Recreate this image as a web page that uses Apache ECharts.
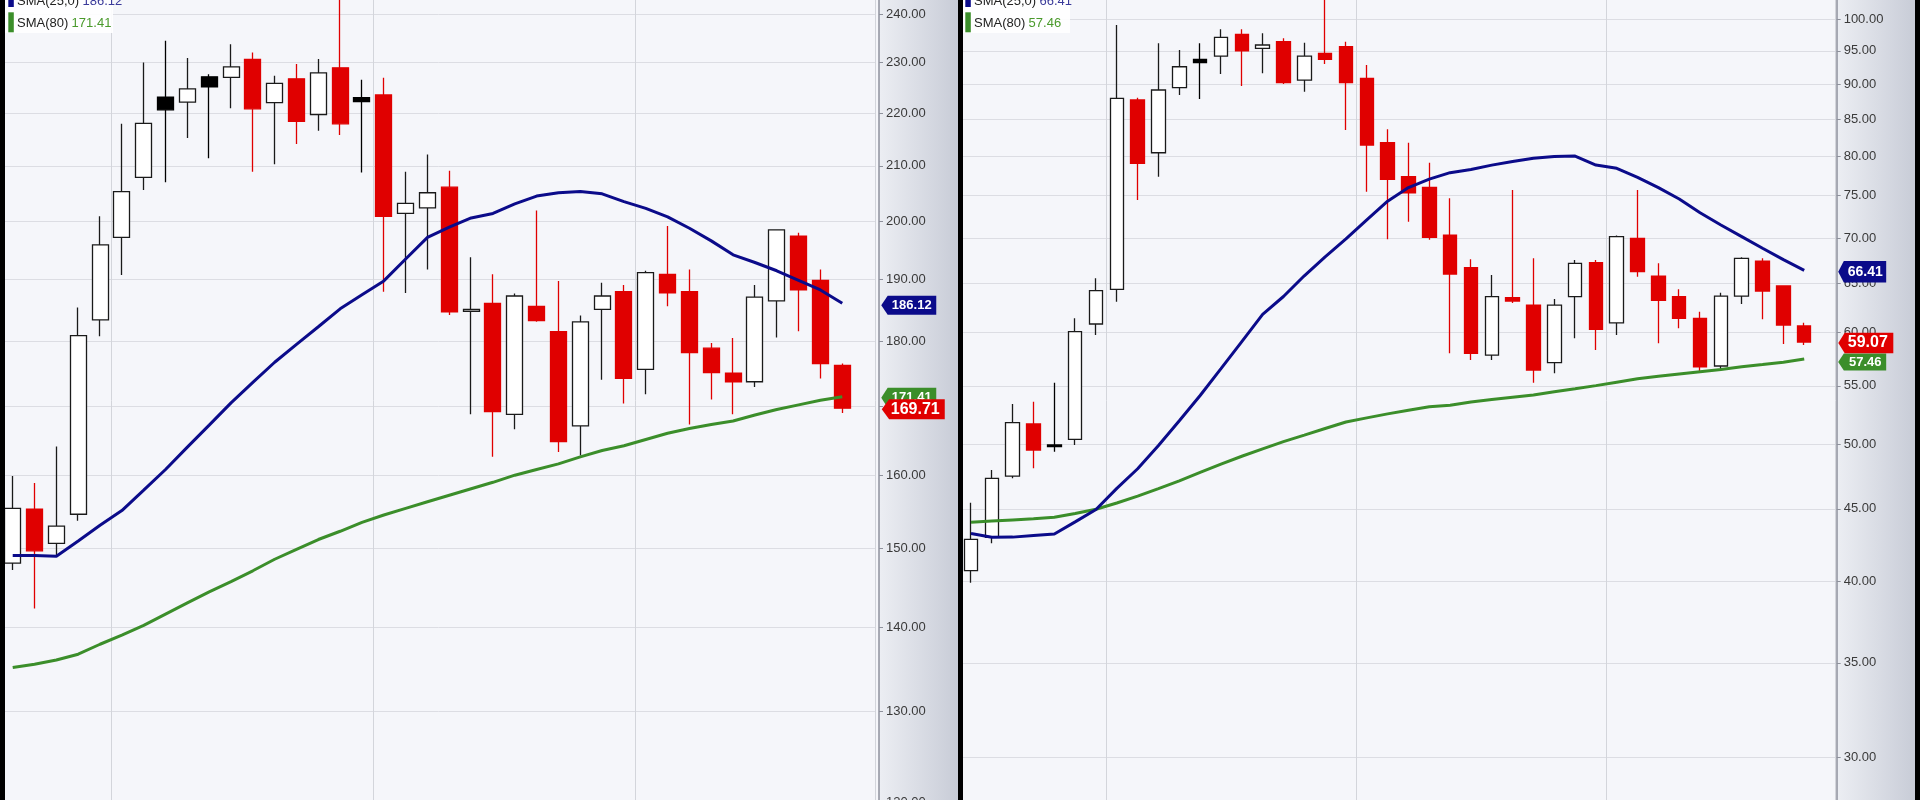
<!DOCTYPE html>
<html><head><meta charset="utf-8">
<script src="https://cdn.jsdelivr.net/npm/echarts@6/dist/echarts.min.js"></script>
<style>
html,body{margin:0;padding:0;background:#000;}
#wrap{position:relative;width:1920px;height:800px;overflow:hidden;background:#000;}
.bg{position:absolute;top:0;height:800px;}
.bar{position:absolute;top:0;height:800px;background:#000;z-index:5;}
#chart{position:absolute;left:0;top:0;width:1920px;height:800px;z-index:2;}
</style></head><body>
<div id="wrap">
<div class="bg" style="left:0;width:879px;background:#f5f6fa"></div>
<div class="bg" style="left:879px;width:79px;background:linear-gradient(to right,#eceef3,#c8ccd7)"></div>
<div class="bg" style="left:963px;width:874px;background:#f5f6fa"></div>
<div class="bg" style="left:1837px;width:78px;background:linear-gradient(to right,#eceef3,#c8ccd7)"></div>
<div id="chart"></div>
<div class="bar" style="left:0;width:5px"></div>
<div class="bar" style="left:957.5px;width:5.5px"></div>
<div class="bar" style="left:1915px;width:5px"></div>
</div>
<script>
// ---------- LEFT PANEL DATA ----------
const leftOpen  = [148.1,155.3,150.7,154.6,183.4,197.2,207.9,223.1,222.1,227.1,227.0,230.6,222.0,226.7,219.7,228.9,223.0,223.5,201.4,202.4,206.1,184.8,186.1,168.8,185.6,181.5,167.1,185.1,188.0,175.6,190.9,188.0,178.9,175.0,173.7,186.5,197.4,189.9,176.2];
const leftClose = [155.4,149.7,153.0,180.9,195.9,205.3,218.0,220.6,224.7,225.1,229.1,220.8,225.8,218.4,227.9,217.9,222.2,200.9,203.2,205.1,184.7,185.1,169.2,187.3,183.3,164.8,183.1,187.3,174.2,191.2,187.8,178.2,175.1,173.7,187.1,198.5,188.3,176.5,169.71];
const leftLow   = [147.2,142.3,149.1,153.7,180.8,190.8,205.6,207.0,215.2,211.4,220.9,208.9,210.3,214.1,216.6,215.8,208.8,188.0,187.8,191.7,184.2,168.8,162.6,166.6,183.1,163.3,162.8,174.0,170.4,171.8,185.6,167.3,171.0,168.8,172.9,180.6,181.6,174.2,169.0];
const leftHigh  = [159.9,158.9,164.1,185.4,200.9,217.9,230.0,234.4,230.9,227.6,233.7,232.0,227.3,229.7,230.7,247.0,226.5,226.9,208.9,212.1,209.1,193.8,190.9,187.7,201.9,189.8,184.1,189.5,189.1,191.5,199.2,191.7,179.7,180.5,189.1,198.6,198.0,191.7,176.5];
const leftType  = ("WRWWWWWBWB"+"WRWRWRBRWW"+"RWRWRRWWRW"+"RRRRWWRRR").split("");
const leftSMA25 = [149.1,149.1,149.0,151.0,153.1,155.1,157.9,160.8,164.0,167.2,170.5,173.6,176.7,179.5,182.3,185.2,187.5,189.8,193.5,197.2,199.0,200.6,201.4,203.1,204.5,205.1,205.3,204.9,203.5,202.3,200.8,198.8,196.6,194.2,192.9,191.5,189.9,188.3,186.12];
const leftSMA80 = [135.1,135.5,136.0,136.7,137.9,139.0,140.2,141.6,143.0,144.4,145.7,147.1,148.6,149.9,151.2,152.3,153.5,154.5,155.4,156.3,157.2,158.1,159.0,160.0,160.8,161.6,162.6,163.5,164.2,165.1,166.0,166.7,167.3,167.8,168.7,169.5,170.2,170.9,171.41];
const leftTicks = [120,130,140,150,160,170,180,190,200,210,220,230,240];
const leftCats  = Array.from({length:40},(_,i)=>"L"+(i+1));

// ---------- RIGHT PANEL DATA ----------
const rightOpen  = [40.68,42.96,47.47,51.68,49.94,50.40,60.84,64.38,87.68,80.45,89.46,93.70,94.20,97.60,95.39,96.43,90.58,94.62,95.64,90.84,81.78,77.37,76.04,70.34,66.69,57.83,63.50,62.75,57.12,63.61,67.24,60.96,69.97,65.79,63.61,61.40,56.81,63.68,67.42,64.73,60.64];
const rightClose = [42.81,47.30,51.79,49.53,49.80,60.08,64.24,87.92,79.08,89.12,92.57,93.18,97.12,95.02,95.91,90.19,94.20,93.70,90.19,81.47,77.04,75.37,70.08,66.00,58.00,63.61,63.16,56.44,62.75,67.17,60.32,70.15,66.26,63.24,61.40,56.74,63.68,67.72,64.20,60.74,59.07];
const rightLow   = [39.89,42.54,47.30,48.08,49.39,49.94,59.76,63.09,74.48,77.37,88.40,87.82,91.48,89.70,91.58,90.00,88.87,92.98,83.49,75.49,69.85,71.88,69.80,58.00,57.37,57.37,62.96,55.28,56.14,59.44,58.31,59.76,65.72,58.95,60.41,56.30,56.51,62.86,61.31,58.88,58.80];
const rightHigh  = [45.45,47.94,53.39,53.59,55.28,61.40,65.55,99.09,88.00,96.18,95.13,96.18,98.39,98.39,97.76,96.96,96.27,104.0,96.43,92.83,83.59,81.78,79.15,74.69,67.61,65.90,75.71,67.72,63.37,67.53,67.53,70.30,75.71,67.17,64.38,62.07,64.02,67.85,67.72,64.80,60.96];
const rightType  = ("WWWRBWWWRW"+"WBWRWRWRRR"+"RRRRRWRRWW"+"RWRRRRWWRR"+"R").split("");
const rightSMA25 = [43.22,42.96,42.97,43.08,43.19,44.05,44.95,46.53,48.04,49.90,51.95,54.14,56.56,59.12,61.80,63.63,65.82,67.88,69.90,72.10,74.34,76.01,77.06,77.88,78.28,78.84,79.32,79.73,79.97,80.02,78.85,78.43,77.29,76.00,74.60,72.94,71.50,70.16,68.84,67.57,66.41];
const rightSMA80 = [44.03,44.11,44.19,44.27,44.38,44.66,44.97,45.43,45.94,46.51,47.10,47.75,48.41,49.03,49.62,50.21,50.75,51.30,51.85,52.20,52.54,52.86,53.16,53.29,53.57,53.78,53.98,54.18,54.47,54.74,55.02,55.33,55.64,55.86,56.07,56.28,56.49,56.74,56.94,57.16,57.46];
const rightTicks = [30,35,40,45,50,55,60,65,70,75,80,85,90,95,100];
const rightCats  = Array.from({length:42},(_,i)=>"R"+(i+1));

// ---------- CHART ----------
const L = Math.log;
const FONT = "Liberation Sans, Arial, sans-serif";
const BLUE = "#0b0b8a", GREEN = "#3b8e2a", RED = "#e00000";
const TAG = "path://M0,10L7,0L60,0L60,20L7,20Z";
const STY = {
  W:{color:"#ffffff",color0:"#ffffff",borderColor:"#1a1a1a",borderColor0:"#1a1a1a",borderColorDoji:"#1a1a1a"},
  R:{color:RED,color0:RED,borderColor:RED,borderColor0:RED,borderColorDoji:RED},
  B:{color:"#000",color0:"#000",borderColor:"#000",borderColor0:"#000",borderColorDoji:"#000"}
};
function candles(o,c,l,h,t){
  return o.map((v,i)=>({value:[L(v),L(c[i]),L(l[i]),L(h[i])],itemStyle:Object.assign({borderWidth:1.3},STY[t[i]])}));
}
function yAx(g,ticks,lo,hi,off){
  return {type:"value",gridIndex:g,position:"right",offset:off,min:L(lo),max:L(hi),
    axisLine:{show:true,lineStyle:{color:"#8e919c",width:1.5}},
    axisTick:{show:true,length:4,customValues:ticks.map(L),lineStyle:{color:"#8e919c"}},
    axisLabel:{show:true,customValues:ticks.map(L),formatter:v=>Math.exp(v).toFixed(2),color:"#3a3a3a",fontSize:13,fontFamily:FONT,margin:7},
    splitLine:{show:true,lineStyle:{color:"#dcdde3",width:1}}};
}
function xAx(g,cats,mod){
  return {type:"category",gridIndex:g,data:cats,boundaryGap:true,
    axisLine:{show:false},axisTick:{show:false},axisLabel:{show:false},
    splitLine:{show:true,interval:(i)=>i%12===mod,lineStyle:{color:"#d3d5db",width:1}}};
}
function tag(cat,val,color,size,off,fs,z,loff){
  return {z:z,symbol:TAG,symbolSize:size,symbolOffset:off,itemStyle:{color:color},
    label:{show:true,position:"inside",formatter:()=>val.toFixed(2),color:"#fff",fontWeight:"bold",fontSize:fs,fontFamily:FONT,offset:loff},
    data:[{coord:[cat,L(val)],value:val}]};
}
function legend(x0,v25,v80){
  return [
    {type:"rect",shape:{x:x0,y:0,width:108,height:33},style:{fill:"rgba(255,255,255,0.9)"},z:100},
    {type:"rect",shape:{x:x0+3.3,y:-13,width:5.5,height:20},style:{fill:BLUE},z:101},
    {type:"rect",shape:{x:x0+3.3,y:12.3,width:5.5,height:20},style:{fill:GREEN},z:101},
    {type:"text",x:x0+12,y:1.3,z:101,style:{text:"{a|SMA(25,0)} {b|"+v25.toFixed(2)+"}",verticalAlign:"middle",
      rich:{a:{fill:"#222",fontSize:13,fontFamily:FONT},b:{fill:"#3a3a9a",fontSize:13,fontFamily:FONT}}}},
    {type:"text",x:x0+12,y:23.3,z:101,style:{text:"{a|SMA(80)} {b|"+v80.toFixed(2)+"}",verticalAlign:"middle",
      rich:{a:{fill:"#222",fontSize:13,fontFamily:FONT},b:{fill:"#4a9a2c",fontSize:13,fontFamily:FONT}}}}
  ];
}
const lN = leftClose.length-1, rN = rightClose.length-1;
const chart = echarts.init(document.getElementById("chart"));
chart.setOption({
  animation:false,
  backgroundColor:"transparent",
  grid:[{left:1.8,top:0,width:873.2,height:810,outerBoundsMode:"none",containLabel:false},
        {left:960.6,top:0,width:874.86,height:810,outerBoundsMode:"none",containLabel:false}],
  xAxis:[xAx(0,leftCats,5),xAx(1,rightCats,7)],
  yAxis:[yAx(0,leftTicks,119.2,242.97,4),yAx(1,rightTicks,27.53,103.22,1.2)],
  graphic:legend(5,leftSMA25[lN],leftSMA80[lN]).concat(legend(962,rightSMA25[rN],rightSMA80[rN])),
  series:[
    {type:"candlestick",xAxisIndex:0,yAxisIndex:0,barWidth:16.5,clip:false,data:candles(leftOpen,leftClose,leftLow,leftHigh,leftType),
      markPoint:tag(leftCats[lN],leftClose[lN],RED,[63,20],[71,1],16,8,[2,0])},
    {type:"line",xAxisIndex:0,yAxisIndex:0,data:leftSMA80.map(L),symbol:"none",clip:false,lineStyle:{color:GREEN,width:3},z:3,
      markPoint:tag(leftCats[lN],leftSMA80[lN],GREEN,[55,20],[66.5,1],13,6,[3,0])},
    {type:"line",xAxisIndex:0,yAxisIndex:0,data:leftSMA25.map(L),symbol:"none",clip:false,lineStyle:{color:BLUE,width:3},z:4,
      markPoint:tag(leftCats[lN],leftSMA25[lN],BLUE,[55,19],[66.5,2],13,7,[3,0])},
    {type:"candlestick",xAxisIndex:1,yAxisIndex:1,barWidth:14,clip:false,data:candles(rightOpen,rightClose,rightLow,rightHigh,rightType),
      markPoint:tag(rightCats[rN],rightClose[rN],RED,[55,20.5],[61.6,1],16,8,[2,0])},
    {type:"line",xAxisIndex:1,yAxisIndex:1,data:rightSMA80.map(L),symbol:"none",clip:false,lineStyle:{color:GREEN,width:3},z:3,
      markPoint:tag(rightCats[rN],rightSMA80[rN],GREEN,[48,17],[58,3],13,6,[3,0])},
    {type:"line",xAxisIndex:1,yAxisIndex:1,data:rightSMA25.map(L),symbol:"none",clip:false,lineStyle:{color:BLUE,width:3},z:4,
      markPoint:tag(rightCats[rN],rightSMA25[rN],BLUE,[48,21.5],[58,1.5],14,7,[3,0])}
  ]
});
</script>
</body></html>
